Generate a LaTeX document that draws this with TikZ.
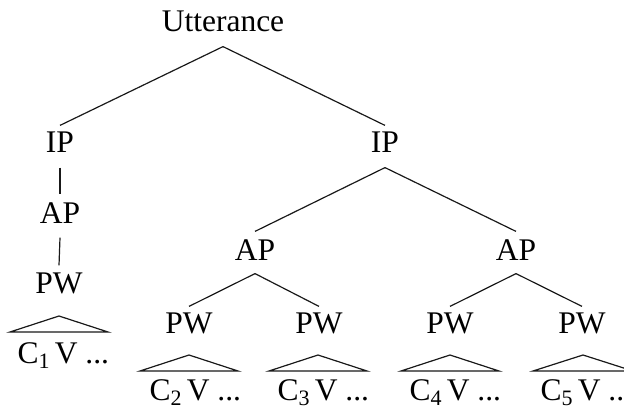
\documentclass[tikz,border=0pt]{standalone}
\usepackage{fontspec}
\setmainfont{Liberation Serif}
\newcommand{\sbs}[1]{\raisebox{-5pt}{\fontsize{22}{22}\selectfont #1}}
\begin{document}
\begin{tikzpicture}[x=1pt,y=-1pt,line width=1.2pt,
  lbl/.style={inner sep=0pt,text height=21pt,text depth=0pt,anchor=base,font=\fontsize{31.5}{36}\selectfont},
  leaf/.style={inner sep=0pt,anchor=base west,font=\fontsize{31.5}{36}\selectfont},
  edge/.style={draw=black!90,line width=1.2pt}]
\useasboundingbox (0,0) rectangle (624,409);
% nodes
\node[lbl] (utt) at (223,32) {Utterance};
\node[lbl] (ipL) at (60,153) {IP};
\node[lbl] (ipR) at (385,153) {IP};
\node[lbl] (apL) at (60,223) {AP};
\node[lbl] (pwL) at (59,293) {PW};
\node[lbl] (apM) at (255,260) {AP};
\node[lbl] (apR) at (516,260) {AP};
\node[lbl] (pw1) at (189,333) {PW};
\node[lbl] (pw2) at (319,333) {PW};
\node[lbl] (pw3) at (450,333) {PW};
\node[lbl] (pw4) at (582,333) {PW};
% connectors
\draw[edge] ([yshift=-14pt]utt.south) -- ([yshift=6pt]ipL.north);
\draw[edge] ([yshift=-14pt]utt.south) -- ([yshift=6pt]ipR.north);
\draw[edge] ([yshift=-14pt]ipL.south) -- ([yshift=7pt]apL.north);
\draw[edge] ([yshift=-14pt]apL.south) -- ([yshift=6pt]pwL.north);
\draw[edge] ([yshift=-14pt]ipR.south) -- ([yshift=7pt]apM.north);
\draw[edge] ([yshift=-14pt]ipR.south) -- ([yshift=7pt]apR.north);
\draw[edge] ([yshift=-13pt]apM.south) -- ([yshift=5pt]pw1.north);
\draw[edge] ([yshift=-13pt]apM.south) -- ([yshift=5pt]pw2.north);
\draw[edge] ([yshift=-13pt]apR.south) -- ([yshift=5pt]pw3.north);
\draw[edge] ([yshift=-13pt]apR.south) -- ([yshift=5pt]pw4.north);
% triangles
\draw[edge] (10,332) -- (59,316) -- (108,332) -- cycle;
\draw[edge] (140,371) -- (189,355) -- (238,371) -- cycle;
\draw[edge] (269,371) -- (318,355) -- (367,371) -- cycle;
\draw[edge] (401,371) -- (450,355) -- (499,371) -- cycle;
\draw[edge] (533,371) -- (583,355) -- (633,371) -- cycle;
% leaf labels
\node[leaf] (c1) at (17,363) {C\sbs{1}\,V ...};
\node[leaf] (c2) at (149,400) {C\sbs{2}\,V ...};
\node[leaf] (c3) at (277,400) {C\sbs{3}\,V ...};
\node[leaf] (c4) at (409,400) {C\sbs{4}\,V ...};
\node[leaf] (c5) at (540,400) {C\sbs{5}\,V ..};
\end{tikzpicture}
\end{document}
